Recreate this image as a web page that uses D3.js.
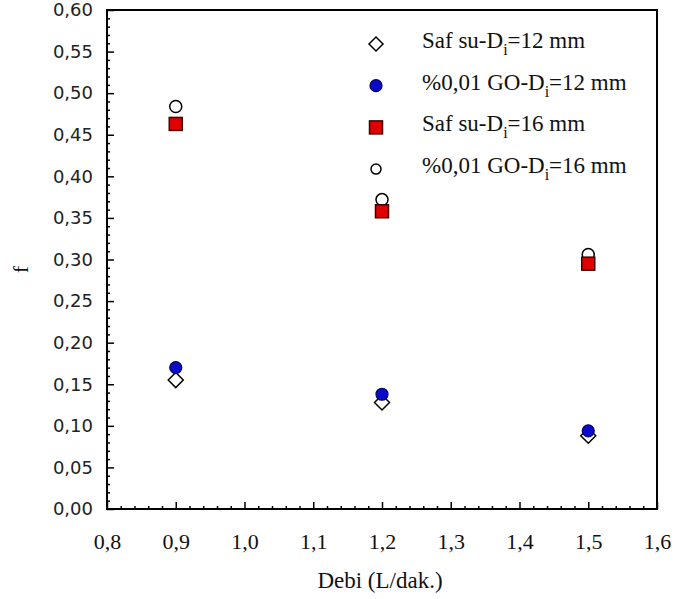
<!DOCTYPE html>
<html>
<head>
<meta charset="utf-8">
<style>
  body { margin: 0; background: #fff; }
  svg { display: block; }
</style>
</head>
<body>
<svg width="674" height="599"></svg>
<script src="https://cdn.jsdelivr.net/npm/d3@7/dist/d3.min.js"></script>
<script>

// flow rates (L/dak.)
var debi = [0.9, 1.2, 1.5];

// friction factor f for each series
var safSu12 = [0.155, 0.128, 0.088];
var go12 = [0.170, 0.138, 0.094];
var safSu16 = [0.463, 0.358, 0.295];
var go16 = [0.484, 0.372, 0.306];

var xTicks = [0.8, 0.9, 1.0, 1.1, 1.2, 1.3, 1.4, 1.5, 1.6];
var yTicks = [0, 0.05, 0.1, 0.15, 0.2, 0.25, 0.3, 0.35, 0.4, 0.45, 0.5, 0.55, 0.6];

var svg = d3.select("svg"),
    margin = {top: 10, right: 17, bottom: 90, left: 107},
    width = +svg.attr("width") - margin.left - margin.right,
    height = +svg.attr("height") - margin.top - margin.bottom,
    g = svg.append("g").attr("transform", "translate(" + margin.left + "," + margin.top + ")");

var x = d3.scaleLinear().domain([0.8, 1.6]).range([0, width]);
var y = d3.scaleLinear().domain([0, 0.6]).range([height, 0]);

var comma = function(f) { return function(d) { return f(d).replace(".", ","); }; };
var serif = "'Liberation Serif', 'Times New Roman', serif";

// minor ticks
var xMinor = d3.range(0, 41).map(function(i) { return 0.8 + i * 0.02; })
    .filter(function(d, i) { return i % 5 != 0; });
var yMinor = d3.range(0, 61).map(function(i) { return i * 0.01; })
    .filter(function(d, i) { return i % 5 != 0; });

g.append("g")
    .attr("transform", "translate(0," + height + ")")
    .call(d3.axisBottom(x).tickValues(xMinor).tickFormat("").tickSize(-3).tickSizeOuter(0))
    .call(function(a) { a.select(".domain").remove(); });

g.append("g")
    .call(d3.axisLeft(y).tickValues(yMinor).tickFormat("").tickSize(-3).tickSizeOuter(0))
    .call(function(a) { a.select(".domain").remove(); });

var xAxis = g.append("g")
    .attr("transform", "translate(0," + height + ")")
    .call(d3.axisBottom(x).tickValues(xTicks).tickFormat(comma(d3.format(".1f")))
      .tickSize(-7).tickSizeOuter(0).tickPadding(24));
xAxis.select(".domain").remove();
xAxis.selectAll("text")
    .attr("font-family", serif)
    .attr("font-size", 22)
    .attr("fill", "#111");

var yAxis = g.append("g")
    .call(d3.axisLeft(y).tickValues(yTicks).tickFormat(comma(d3.format(".2f")))
      .tickSize(-7).tickSizeOuter(0).tickPadding(14));
yAxis.select(".domain").remove();
yAxis.selectAll("text")
    .attr("font-family", "'DejaVu Sans', Tahoma, sans-serif")
    .attr("font-size", 18)
    .attr("fill", "#222");

g.selectAll(".tick line").attr("stroke", "#000").attr("stroke-width", 1.5);

// frame
g.append("rect")
    .attr("width", width)
    .attr("height", height)
    .attr("fill", "none")
    .attr("stroke", "#000")
    .attr("stroke-width", 2);

// axis titles
svg.append("text")
    .attr("x", margin.left + width / 2 - 2)
    .attr("y", 588)
    .attr("text-anchor", "middle")
    .attr("font-family", serif)
    .attr("font-size", 23)
    .attr("fill", "#111")
    .text("Debi (L/dak.)");

svg.append("text")
    .attr("transform", "translate(28," + (margin.top + height / 2 + 10) + ") rotate(-90)")
    .attr("text-anchor", "middle")
    .attr("font-family", serif)
    .attr("font-size", 22)
    .attr("fill", "#111")
    .text("f");

// marker drawers
var diamond = function(sel, s) {
  sel.append("path")
      .attr("d", "M0," + (-s) + "L" + s + ",0L0," + s + "L" + (-s) + ",0Z")
      .attr("fill", "#fff").attr("stroke", "#000").attr("stroke-width", 1.5);
};
var blueDot = function(sel, r) {
  sel.append("circle").attr("r", r)
      .attr("fill", "#0a0acc").attr("stroke", "#000060").attr("stroke-width", 1.2);
};
var redSquare = function(sel, s) {
  sel.append("rect").attr("x", -s / 2).attr("y", -s / 2).attr("width", s).attr("height", s)
      .attr("fill", "#e00000").attr("stroke", "#400000").attr("stroke-width", 1.5);
};
var openDot = function(sel, r) {
  sel.append("circle").attr("r", r)
      .attr("fill", "#fff").attr("stroke", "#000").attr("stroke-width", 1.5);
};

var series = [
  {vals: safSu12, draw: diamond, size: 7.5},
  {vals: go12, draw: blueDot, size: 6},
  {vals: go16, draw: openDot, size: 6},
  {vals: safSu16, draw: redSquare, size: 13}
];

series.forEach(function(s) {
  g.append("g").selectAll("g")
      .data(s.vals)
    .enter().append("g")
      .attr("transform", function(d, i) { return "translate(" + x(debi[i]) + "," + y(d) + ")"; })
      .each(function() { s.draw(d3.select(this), s.size); });
});

// legend
var legend = [
  {num: "12", pre: "Saf su-D", draw: diamond, size: 7},
  {num: "12", pre: "%0,01 GO-D", draw: blueDot, size: 6},
  {num: "16", pre: "Saf su-D", draw: redSquare, size: 13},
  {num: "16", pre: "%0,01 GO-D", draw: openDot, size: 5}
];

var lg = svg.append("g").selectAll("g")
    .data(legend)
  .enter().append("g")
    .attr("transform", function(d, i) { return "translate(376," + (44 + i * 41.7) + ")"; });

lg.each(function(d) { d.draw(d3.select(this), d.size); });

var lt = lg.append("text")
    .attr("x", 46)
    .attr("y", 4)
    .attr("font-family", serif)
    .attr("font-size", 23)
    .attr("fill", "#111");
lt.append("tspan").text(function(d) { return d.pre; });
lt.append("tspan").attr("font-size", 16).attr("dy", 7).text("i");
lt.append("tspan").attr("dy", -7).text(function(d) { return "=" + d.num + " mm"; });

</script>
</body>
</html>
